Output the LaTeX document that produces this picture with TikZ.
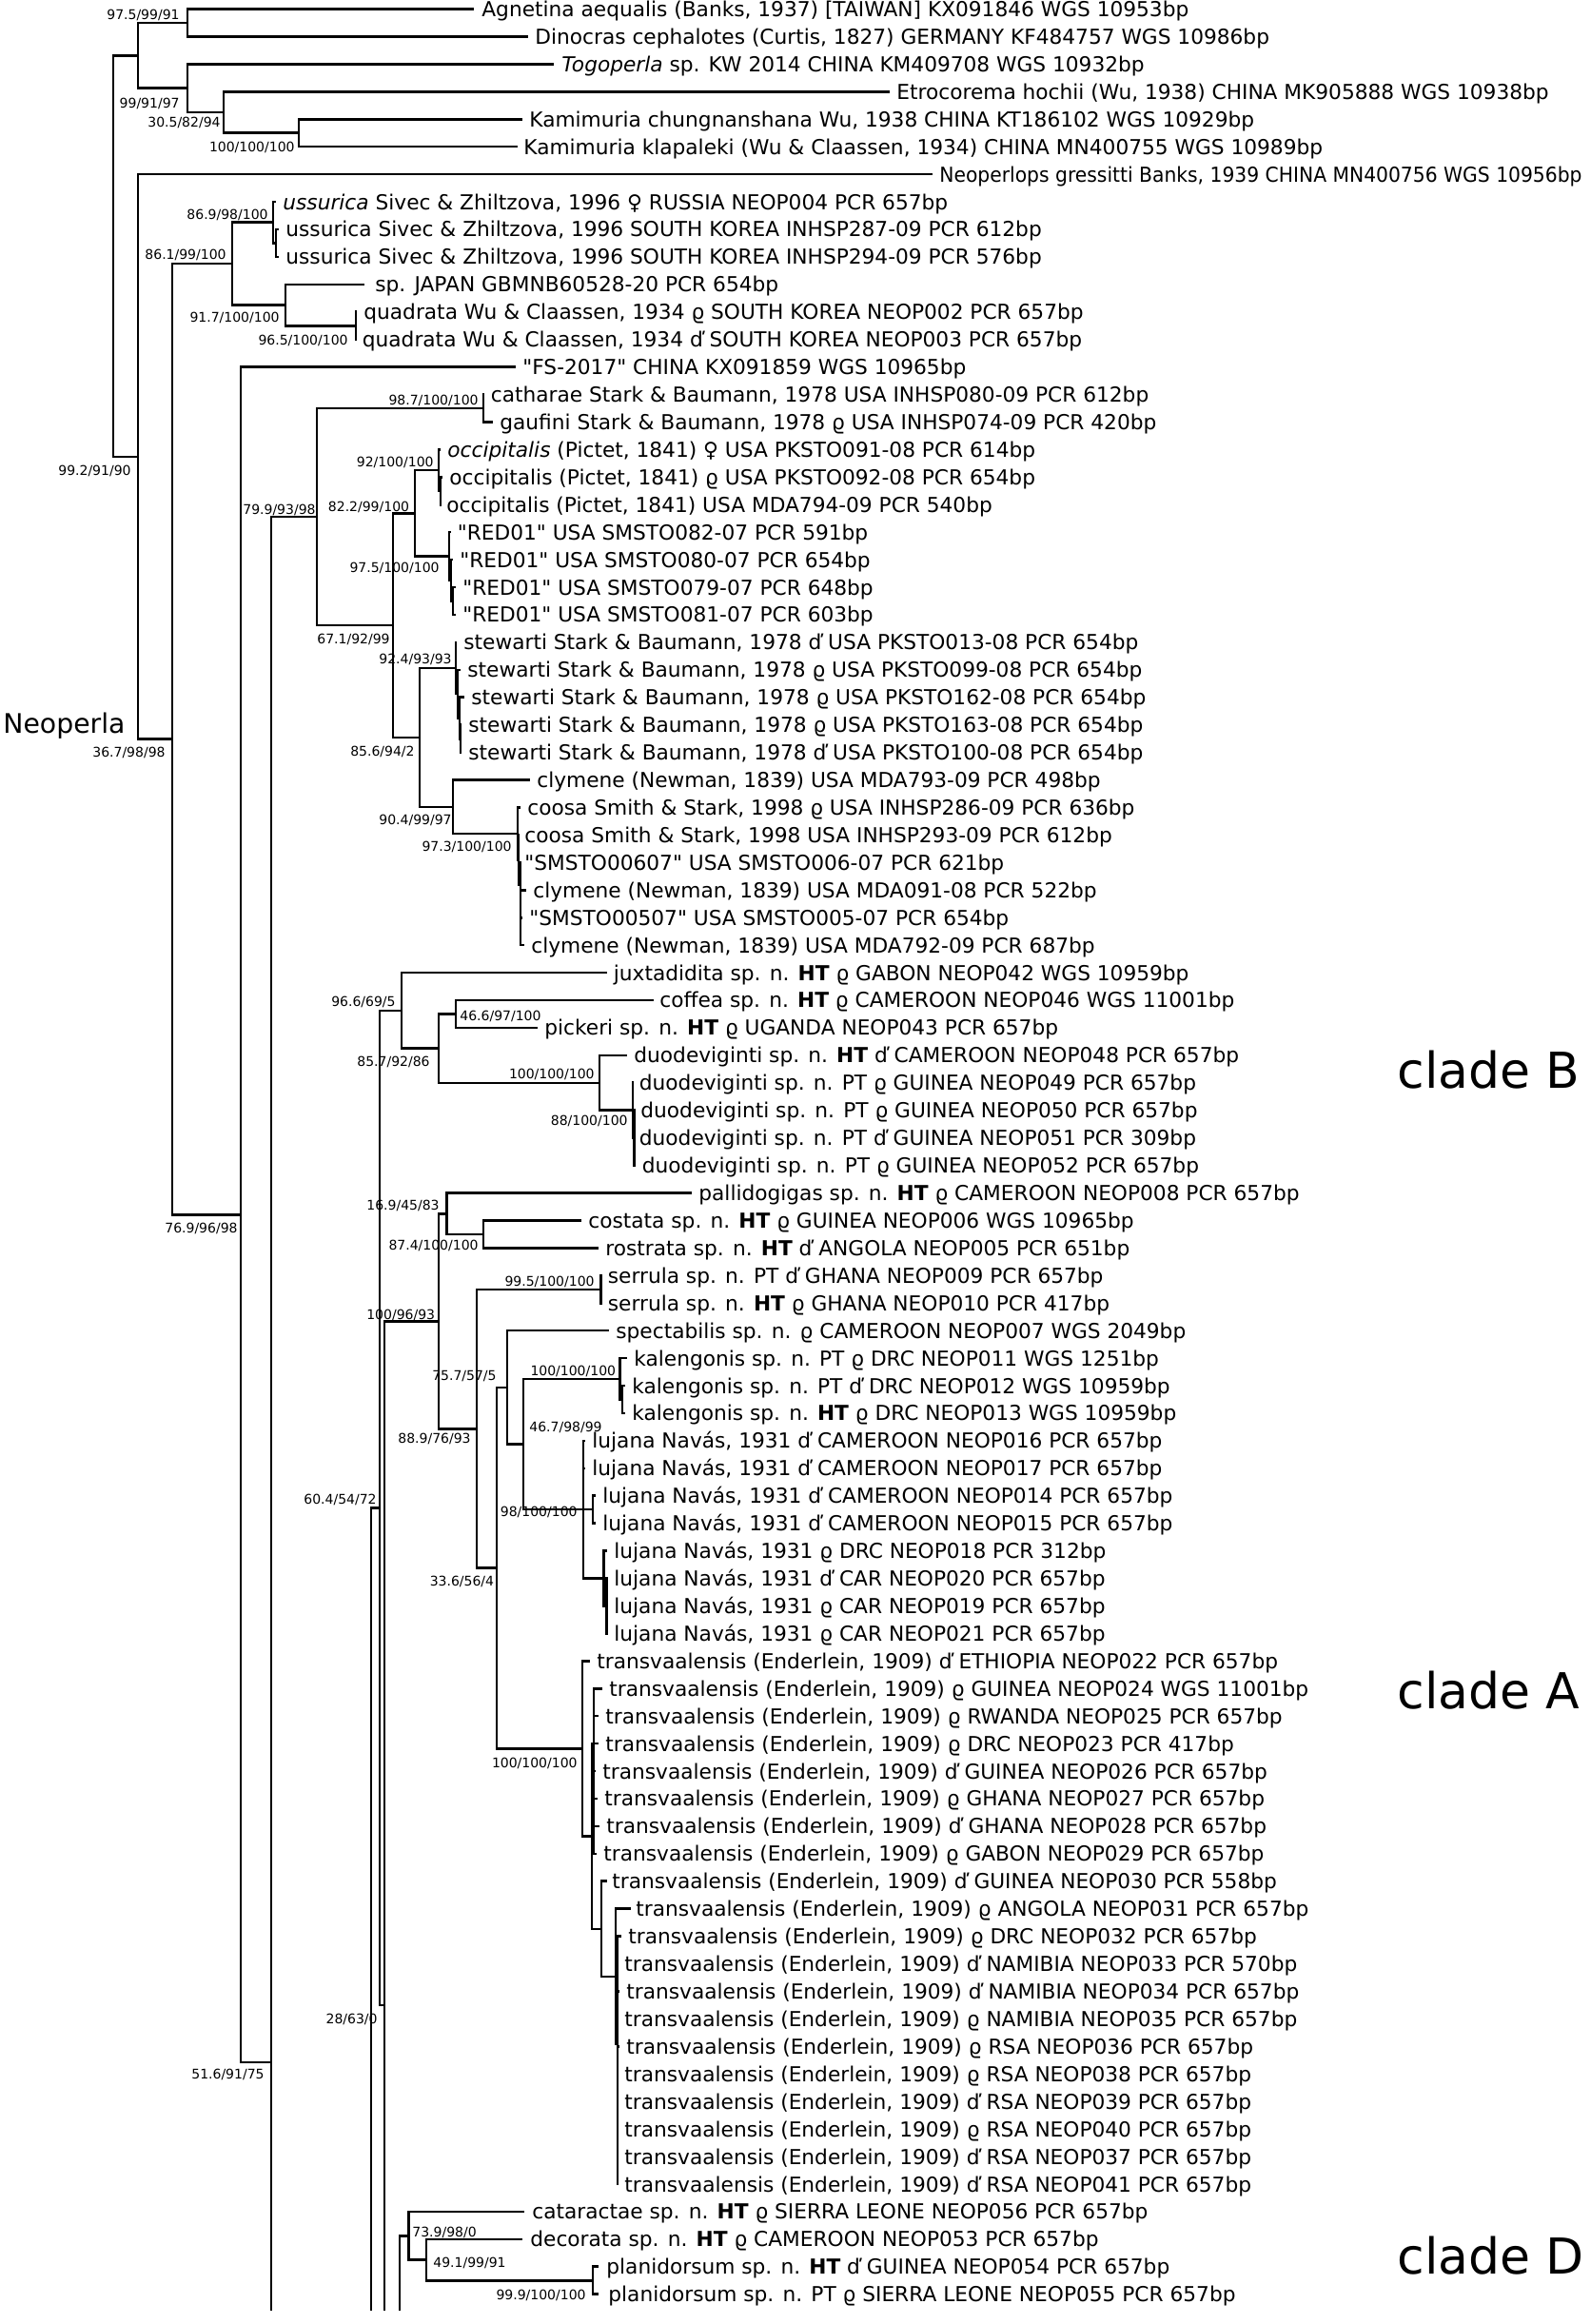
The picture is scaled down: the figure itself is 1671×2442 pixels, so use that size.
\documentclass[tikz,border=0pt]{standalone}
\usepackage{fontspec}
\setmainfont[Ligatures=TeXOff]{DejaVu Sans}
\newcommand\leafY[1]{9.5+28.93*#1}
\newcommand\TVx{transvaalensis (Enderlein, 1909)}
\newcommand\SZx{Sivec \& Zhiltzova, 1996}
\newcommand\SBx{Stark \& Baumann, 1978}
\begin{document}
\begin{tikzpicture}[x=0.5pt,y=-0.5pt,
  br/.style={line width=1.3pt, line cap=rect, line join=miter},
  leaf/.style={anchor=base west, inner sep=0pt, font=\fontsize{10.85}{13}\selectfont},
  suplab/.style={anchor=base east, inner sep=0pt, font=\fontsize{7}{8}\selectfont},
  suplabw/.style={suplab, anchor=base west},
  cladelab/.style={anchor=base west, inner sep=0pt, font=\fontsize{26}{30}\selectfont}]
\fill[white] (0,0) rectangle (1671,2442);
\useasboundingbox (0,0) rectangle (1671,2442);

% ---------- internal nodes ----------
\coordinate (R) at (119,269.1);
\coordinate (O1) at (145,58.3);
\coordinate (O2) at (197,23.97);
\coordinate (O3) at (197,92.67);
\coordinate (O4) at (235,117.99);
\coordinate (O5) at (314,139.69);
\coordinate (N1) at (145,479.9);
\coordinate (N2) at (181,776.7);
\coordinate (N3) at (244,277.1);
\coordinate (U1) at (287,233.7);
\coordinate (U2) at (290,255.4);
\coordinate (J1) at (300,320.5);
\coordinate (Q1) at (374,342.2);
\coordinate (N5) at (253,1276.3);
\coordinate (N6) at (285,2167);
\coordinate (cut6) at (285,2427);
\coordinate (C1) at (333,543);
\coordinate (CG) at (508,429);
\coordinate (C2) at (413,657.1);
\coordinate (C3) at (436,539.3);
\coordinate (OC) at (461,494.1);
\coordinate (OC2) at (463,515.8);
\coordinate (RD) at (472,584.5);
\coordinate (RD2) at (474,609.8);
\coordinate (RD3) at (476,631.5);
\coordinate (C5) at (441,774.9);
\coordinate (ST) at (479,702);
\coordinate (ST2) at (481,729.1);
\coordinate (ST3) at (483,754.4);
\coordinate (ST4) at (484,776.2);
\coordinate (CL) at (476,847.8);
\coordinate (CO) at (544,876);
\coordinate (CO2) at (545,904);
\coordinate (CO3) at (547,930);
\coordinate (cutX) at (390,2427);
\coordinate (Y) at (399,1584.4);
\coordinate (B) at (422,1061.8);
\coordinate (B2) at (461,1101.6);
\coordinate (B3) at (479,1065.4);
\coordinate (DU) at (630,1137.8);
\coordinate (DU2) at (665,1166.7);
\coordinate (DU3) at (666.5,1195.6);
\coordinate (Z) at (404,2107);
\coordinate (cutZ) at (404,2427);
\coordinate (A) at (461,1388.2);
\coordinate (A1) at (469.5,1275.2);
\coordinate (CR) at (508,1296.9);
\coordinate (A2) at (501,1501.2);
\coordinate (SE) at (631.5,1354.8);
\coordinate (A3) at (522,1647.6);
\coordinate (P) at (533,1457.8);
\coordinate (Q) at (550,1517.5);
\coordinate (KA) at (651.5,1448.8);
\coordinate (KA2) at (654,1470.5);
\coordinate (LU) at (613,1586.1);
\coordinate (LU2) at (623,1586.1);
\coordinate (LU3) at (634.5,1658.4);
\coordinate (LU4) at (637.5,1687.3);
\coordinate (TV) at (612,1837.4);
\coordinate (T1) at (622,1929.4);
\coordinate (T2) at (624,1832);
\coordinate (T3) at (632,2026.8);
\coordinate (T4) at (647,2076.9);
\coordinate (T5) at (649,2148);
\coordinate (cutW) at (420,2427);
\coordinate (D) at (429.5,2349.2);
\coordinate (D2) at (448,2374.5);
\coordinate (PL) at (623,2396.2);

% ---------- leaf tips ----------
\foreach \x [count=\i from 0] in {497,554,581,934,548,542.5,979,289,292,292,
  382,374,374,541,508,517,462,464,463,472.5,
  475,478,478,479,483,487,484,484,556,546,
  545,547,552,548,550,637,686,564,657.5,665,
  666.5,666.5,667,726,610,627.5,631.5,631.5,638.5,658,
  656,656,614,614,625,625,637,637.5,637.5,637.5,
  619,632,628,628,625,627,629,626,637,661.5,
  652,649,650,649,650,649,649,649,649,649,
  550,548,628,628}
  \coordinate (l\i) at (\x,{\leafY{\i}});

% ---------- branches ----------
\draw[br] (R) |- (O1); \draw[br] (R) |- (N1);
\draw[br] (O1) |- (O2); \draw[br] (O1) |- (O3);
\draw[br] (O2) |- (l0); \draw[br] (O2) |- (l1);
\draw[br] (O3) |- (l2); \draw[br] (O3) |- (O4);
\draw[br] (O4) |- (l3); \draw[br] (O4) |- (O5);
\draw[br] (O5) |- (l4); \draw[br] (O5) |- (l5);
\draw[br] (N1) |- (l6); \draw[br] (N1) |- (N2);
\draw[br] (N2) |- (N3); \draw[br] (N2) |- (N5);
\draw[br] (N3) |- (U1); \draw[br] (N3) |- (J1);
\draw[br] (U1) |- (l7); \draw[br] (U1) |- (U2);
\draw[br] (U2) |- (l8); \draw[br] (U2) |- (l9);
\draw[br] (J1) |- (l10); \draw[br] (J1) |- (Q1);
\draw[br] (Q1) |- (l11); \draw[br] (Q1) |- (l12);
\draw[br] (N5) |- (l13); \draw[br] (N5) |- (N6);
\draw[br] (N6) |- (C1); \draw[br] (N6) -- (cut6);
\draw[br] (C1) |- (CG); \draw[br] (C1) |- (C2);
\draw[br] (CG) |- (l14); \draw[br] (CG) |- (l15);
\draw[br] (C2) |- (C3); \draw[br] (C2) |- (C5);
\draw[br] (C3) |- (OC); \draw[br] (C3) |- (RD);
\draw[br] (OC) |- (l16); \draw[br] (OC) |- (OC2);
\draw[br] (OC2) |- (l17); \draw[br] (OC2) |- (l18);
\draw[br] (RD) |- (l19); \draw[br] (RD) |- (RD2);
\draw[br] (RD2) |- (l20); \draw[br] (RD2) |- (RD3);
\draw[br] (RD3) |- (l21); \draw[br] (RD3) |- (l22);
\draw[br] (C5) |- (ST); \draw[br] (C5) |- (CL);
\draw[br] (ST) |- (l23); \draw[br] (ST) |- (ST2);
\draw[br] (ST2) |- (l24); \draw[br] (ST2) |- (ST3);
\draw[br] (ST3) |- (l25); \draw[br] (ST3) |- (ST4);
\draw[br] (ST4) |- (l26); \draw[br] (ST4) |- (l27);
\draw[br] (CL) |- (l28); \draw[br] (CL) |- (CO);
\draw[br] (CO) |- (l29); \draw[br] (CO) |- (CO2);
\draw[br] (CO2) |- (l30); \draw[br] (CO2) |- (CO3);
\foreach \i in {31,...,34} \draw[br] (CO3) |- (l\i);
\draw[br] (cutX) |- (Y);
\draw[br] (Y) |- (B); \draw[br] (Y) |- (Z);
\draw[br] (B) |- (l35); \draw[br] (B) |- (B2);
\draw[br] (B2) |- (B3); \draw[br] (B2) |- (DU);
\draw[br] (B3) |- (l36); \draw[br] (B3) |- (l37);
\draw[br] (DU) |- (l38); \draw[br] (DU) |- (DU2);
\draw[br] (DU2) |- (l39); \draw[br] (DU2) |- (DU3);
\foreach \i in {40,41,42} \draw[br] (DU3) |- (l\i);
\draw[br] (Z) |- (A); \draw[br] (Z) -- (cutZ);
\draw[br] (A) |- (A1); \draw[br] (A) |- (A2);
\draw[br] (A1) |- (l43); \draw[br] (A1) |- (CR);
\draw[br] (CR) |- (l44); \draw[br] (CR) |- (l45);
\draw[br] (A2) |- (SE); \draw[br] (A2) |- (A3);
\draw[br] (SE) |- (l46); \draw[br] (SE) |- (l47);
\draw[br] (A3) |- (P); \draw[br] (A3) |- (TV);
\draw[br] (P) |- (l48); \draw[br] (P) |- (Q);
\draw[br] (Q) |- (KA); \draw[br] (Q) |- (LU);
\draw[br] (KA) |- (l49); \draw[br] (KA) |- (KA2);
\draw[br] (KA2) |- (l50); \draw[br] (KA2) |- (l51);
\draw[br] (LU) |- (l52); \draw[br] (LU) |- (l53);
\draw[br] (LU) |- (LU2); \draw[br] (LU) |- (LU3);
\draw[br] (LU2) |- (l54); \draw[br] (LU2) |- (l55);
\draw[br] (LU3) |- (l56); \draw[br] (LU3) |- (LU4);
\foreach \i in {57,58,59} \draw[br] (LU4) |- (l\i);
\draw[br] (TV) |- (l60); \draw[br] (TV) |- (T1);
\draw[br] (T1) |- (T2); \draw[br] (T1) |- (T3);
\foreach \i in {61,...,67} \draw[br] (T2) |- (l\i);
\draw[br] (T3) |- (l68); \draw[br] (T3) |- (T4);
\draw[br] (T4) |- (l69); \draw[br] (T4) |- (T5);
\foreach \i in {70,...,79} \draw[br] (T5) |- (l\i);
\draw[br] (cutW) |- (D);
\draw[br] (D) |- (l80); \draw[br] (D) |- (D2);
\draw[br] (D2) |- (l81); \draw[br] (D2) |- (PL);
\draw[br] (PL) |- (l82); \draw[br] (PL) |- (l83);

% ---------- leaf labels ----------
\node[leaf] (t0) at (506,{\leafY{0}+8}) {Agnetina aequalis (Banks, 1937) [TAIWAN] KX091846 WGS 10953bp};
\node[leaf] (t1) at (562,{\leafY{1}+8}) {Dinocras cephalotes (Curtis, 1827) GERMANY KF484757 WGS 10986bp};
\node[leaf] (t2) at (590,{\leafY{2}+8}) {\textit{Togoperla} sp. KW 2014 CHINA KM409708 WGS 10932bp};
\node[leaf] (t3) at (942,{\leafY{3}+8}) {Etrocorema hochii (Wu, 1938) CHINA MK905888 WGS 10938bp};
\node[leaf] (t4) at (556,{\leafY{4}+8}) {Kamimuria chungnanshana Wu, 1938 CHINA KT186102 WGS 10929bp};
\node[leaf] (t5) at (550,{\leafY{5}+8}) {Kamimuria klapaleki (Wu \& Claassen, 1934) CHINA MN400755 WGS 10989bp};
\node[leaf] (t6) at (987,{\leafY{6}+8}) {\scalebox{0.935}[1]{Neoperlops gressitti Banks, 1939 CHINA MN400756 WGS 10956bp}};
\node[leaf] (t7) at (297,{\leafY{7}+8}) {\textit{ussurica} \SZx{} ♀ RUSSIA NEOP004 PCR 657bp};
\node[leaf] (t8) at (300,{\leafY{8}+8}) {ussurica \SZx{} SOUTH KOREA INHSP287-09 PCR 612bp};
\node[leaf] (t9) at (300,{\leafY{9}+8}) {ussurica \SZx{} SOUTH KOREA INHSP294-09 PCR 576bp};
\node[leaf] (t10) at (394,{\leafY{10}+8}) {sp. JAPAN GBMNB60528-20 PCR 654bp};
\node[leaf] (t11) at (382,{\leafY{11}+8}) {quadrata Wu \& Claassen, 1934 ϱ SOUTH KOREA NEOP002 PCR 657bp};
\node[leaf] (t12) at (380.5,{\leafY{12}+8}) {quadrata Wu \& Claassen, 1934 ď SOUTH KOREA NEOP003 PCR 657bp};
\node[leaf] (t13) at (549,{\leafY{13}+8}) {"FS-2017" CHINA KX091859 WGS 10965bp};
\node[leaf] (t14) at (515.5,{\leafY{14}+8}) {catharae \SBx{} USA INHSP080-09 PCR 612bp};
\node[leaf] (t15) at (525,{\leafY{15}+8}) {gaufini \SBx{} ϱ USA INHSP074-09 PCR 420bp};
\node[leaf] (t16) at (470,{\leafY{16}+8}) {\textit{occipitalis} (Pictet, 1841) ♀ USA PKSTO091-08 PCR 614bp};
\node[leaf] (t17) at (472,{\leafY{17}+8}) {occipitalis (Pictet, 1841) ϱ USA PKSTO092-08 PCR 654bp};
\node[leaf] (t18) at (469,{\leafY{18}+8}) {occipitalis (Pictet, 1841) USA MDA794-09 PCR 540bp};
\node[leaf] (t19) at (480.5,{\leafY{19}+8}) {"RED01" USA SMSTO082-07 PCR 591bp};
\node[leaf] (t20) at (483,{\leafY{20}+8}) {"RED01" USA SMSTO080-07 PCR 654bp};
\node[leaf] (t21) at (486,{\leafY{21}+8}) {"RED01" USA SMSTO079-07 PCR 648bp};
\node[leaf] (t22) at (486,{\leafY{22}+8}) {"RED01" USA SMSTO081-07 PCR 603bp};
\node[leaf] (t23) at (487,{\leafY{23}+8}) {stewarti \SBx{} ď USA PKSTO013-08 PCR 654bp};
\node[leaf] (t24) at (491,{\leafY{24}+8}) {stewarti \SBx{} ϱ USA PKSTO099-08 PCR 654bp};
\node[leaf] (t25) at (495,{\leafY{25}+8}) {stewarti \SBx{} ϱ USA PKSTO162-08 PCR 654bp};
\node[leaf] (t26) at (492,{\leafY{26}+8}) {stewarti \SBx{} ϱ USA PKSTO163-08 PCR 654bp};
\node[leaf] (t27) at (492,{\leafY{27}+8}) {stewarti \SBx{} ď USA PKSTO100-08 PCR 654bp};
\node[leaf] (t28) at (564,{\leafY{28}+8}) {clymene (Newman, 1839) USA MDA793-09 PCR 498bp};
\node[leaf] (t29) at (554,{\leafY{29}+8}) {coosa Smith \& Stark, 1998 ϱ USA INHSP286-09 PCR 636bp};
\node[leaf] (t30) at (551,{\leafY{30}+8}) {coosa Smith \& Stark, 1998 USA INHSP293-09 PCR 612bp};
\node[leaf] (t31) at (551,{\leafY{31}+8}) {"SMSTO00607" USA SMSTO006-07 PCR 621bp};
\node[leaf] (t32) at (560,{\leafY{32}+8}) {clymene (Newman, 1839) USA MDA091-08 PCR 522bp};
\node[leaf] (t33) at (556,{\leafY{33}+8}) {"SMSTO00507" USA SMSTO005-07 PCR 654bp};
\node[leaf] (t34) at (558,{\leafY{34}+8}) {clymene (Newman, 1839) USA MDA792-09 PCR 687bp};
\node[leaf] (t35) at (644.5,{\leafY{35}+8}) {juxtadidita sp. n. \textbf{HT} ϱ GABON NEOP042 WGS 10959bp};
\node[leaf] (t36) at (693,{\leafY{36}+8}) {coffea sp. n. \textbf{HT} ϱ CAMEROON NEOP046 WGS 11001bp};
\node[leaf] (t37) at (572,{\leafY{37}+8}) {pickeri sp. n. \textbf{HT} ϱ UGANDA NEOP043 PCR 657bp};
\node[leaf] (t38) at (666,{\leafY{38}+8}) {duodeviginti sp. n. \textbf{HT} ď CAMEROON NEOP048 PCR 657bp};
\node[leaf] (t39) at (671.5,{\leafY{39}+8}) {duodeviginti sp. n. PT ϱ GUINEA NEOP049 PCR 657bp};
\node[leaf] (t40) at (673,{\leafY{40}+8}) {duodeviginti sp. n. PT ϱ GUINEA NEOP050 PCR 657bp};
\node[leaf] (t41) at (671.5,{\leafY{41}+8}) {duodeviginti sp. n. PT ď GUINEA NEOP051 PCR 309bp};
\node[leaf] (t42) at (674.5,{\leafY{42}+8}) {duodeviginti sp. n. PT ϱ GUINEA NEOP052 PCR 657bp};
\node[leaf] (t43) at (734,{\leafY{43}+8}) {pallidogigas sp. n. \textbf{HT} ϱ CAMEROON NEOP008 PCR 657bp};
\node[leaf] (t44) at (618,{\leafY{44}+8}) {costata sp. n. \textbf{HT} ϱ GUINEA NEOP006 WGS 10965bp};
\node[leaf] (t45) at (636,{\leafY{45}+8}) {rostrata sp. n. \textbf{HT} ď ANGOLA NEOP005 PCR 651bp};
\node[leaf] (t46) at (638.5,{\leafY{46}+8}) {serrula sp. n. PT ď GHANA NEOP009 PCR 657bp};
\node[leaf] (t47) at (638.5,{\leafY{47}+8}) {serrula sp. n. \textbf{HT} ϱ GHANA NEOP010 PCR 417bp};
\node[leaf] (t48) at (647,{\leafY{48}+8}) {spectabilis sp. n. ϱ CAMEROON NEOP007 WGS 2049bp};
\node[leaf] (t49) at (666,{\leafY{49}+8}) {kalengonis sp. n. PT ϱ DRC NEOP011 WGS 1251bp};
\node[leaf] (t50) at (664,{\leafY{50}+8}) {kalengonis sp. n. PT ď DRC NEOP012 WGS 10959bp};
\node[leaf] (t51) at (664,{\leafY{51}+8}) {kalengonis sp. n. \textbf{HT} ϱ DRC NEOP013 WGS 10959bp};
\node[leaf] (t52) at (622,{\leafY{52}+8}) {lujana Navás, 1931 ď CAMEROON NEOP016 PCR 657bp};
\node[leaf] (t53) at (622,{\leafY{53}+8}) {lujana Navás, 1931 ď CAMEROON NEOP017 PCR 657bp};
\node[leaf] (t54) at (633,{\leafY{54}+8}) {lujana Navás, 1931 ď CAMEROON NEOP014 PCR 657bp};
\node[leaf] (t55) at (633,{\leafY{55}+8}) {lujana Navás, 1931 ď CAMEROON NEOP015 PCR 657bp};
\node[leaf] (t56) at (645,{\leafY{56}+8}) {lujana Navás, 1931 ϱ DRC NEOP018 PCR 312bp};
\node[leaf] (t57) at (645,{\leafY{57}+8}) {lujana Navás, 1931 ď CAR NEOP020 PCR 657bp};
\node[leaf] (t58) at (645,{\leafY{58}+8}) {lujana Navás, 1931 ϱ CAR NEOP019 PCR 657bp};
\node[leaf] (t59) at (645,{\leafY{59}+8}) {lujana Navás, 1931 ϱ CAR NEOP021 PCR 657bp};
\node[leaf] (t60) at (627,{\leafY{60}+8}) {\TVx{} ď ETHIOPIA NEOP022 PCR 657bp};
\node[leaf] (t61) at (640,{\leafY{61}+8}) {\TVx{} ϱ GUINEA NEOP024 WGS 11001bp};
\node[leaf] (t62) at (636,{\leafY{62}+8}) {\TVx{} ϱ RWANDA NEOP025 PCR 657bp};
\node[leaf] (t63) at (636,{\leafY{63}+8}) {\TVx{} ϱ DRC NEOP023 PCR 417bp};
\node[leaf] (t64) at (633,{\leafY{64}+8}) {\TVx{} ď GUINEA NEOP026 PCR 657bp};
\node[leaf] (t65) at (635,{\leafY{65}+8}) {\TVx{} ϱ GHANA NEOP027 PCR 657bp};
\node[leaf] (t66) at (637,{\leafY{66}+8}) {\TVx{} ď GHANA NEOP028 PCR 657bp};
\node[leaf] (t67) at (634,{\leafY{67}+8}) {\TVx{} ϱ GABON NEOP029 PCR 657bp};
\node[leaf] (t68) at (643,{\leafY{68}+8}) {\TVx{} ď GUINEA NEOP030 PCR 558bp};
\node[leaf] (t69) at (668,{\leafY{69}+8}) {\TVx{} ϱ ANGOLA NEOP031 PCR 657bp};
\node[leaf] (t70) at (660,{\leafY{70}+8}) {\TVx{} ϱ DRC NEOP032 PCR 657bp};
\node[leaf] (t71) at (656,{\leafY{71}+8}) {\TVx{} ď NAMIBIA NEOP033 PCR 570bp};
\node[leaf] (t72) at (658,{\leafY{72}+8}) {\TVx{} ď NAMIBIA NEOP034 PCR 657bp};
\node[leaf] (t73) at (656,{\leafY{73}+8}) {\TVx{} ϱ NAMIBIA NEOP035 PCR 657bp};
\node[leaf] (t74) at (658,{\leafY{74}+8}) {\TVx{} ϱ RSA NEOP036 PCR 657bp};
\node[leaf] (t75) at (656,{\leafY{75}+8}) {\TVx{} ϱ RSA NEOP038 PCR 657bp};
\node[leaf] (t76) at (656,{\leafY{76}+8}) {\TVx{} ď RSA NEOP039 PCR 657bp};
\node[leaf] (t77) at (656,{\leafY{77}+8}) {\TVx{} ϱ RSA NEOP040 PCR 657bp};
\node[leaf] (t78) at (656,{\leafY{78}+8}) {\TVx{} ď RSA NEOP037 PCR 657bp};
\node[leaf] (t79) at (656,{\leafY{79}+8}) {\TVx{} ď RSA NEOP041 PCR 657bp};
\node[leaf] (t80) at (559,{\leafY{80}+8}) {cataractae sp. n. \textbf{HT} ϱ SIERRA LEONE NEOP056 PCR 657bp};
\node[leaf] (t81) at (557,{\leafY{81}+8}) {decorata sp. n. \textbf{HT} ϱ CAMEROON NEOP053 PCR 657bp};
\node[leaf] (t82) at (637,{\leafY{82}+8}) {planidorsum sp. n. \textbf{HT} ď GUINEA NEOP054 PCR 657bp};
\node[leaf] (t83) at (639,{\leafY{83}+8}) {planidorsum sp. n. PT ϱ SIERRA LEONE NEOP055 PCR 657bp};

% ---------- support values ----------
\node[suplab] (s1) at (189,20) {97.5/99/91};
\node[suplab] (s2) at (189,113) {99/91/97};
\node[suplab] (s3) at (232,133) {30.5/82/94};
\node[suplab] (s4) at (310,159) {100/100/100};
\node[suplab] (s5) at (282,230) {86.9/98/100};
\node[suplab] (s6) at (238,272.3) {86.1/99/100};
\node[suplab] (s7) at (294,338.3) {91.7/100/100};
\node[suplab] (s8) at (366,362.3) {96.5/100/100};
\node[suplab] (s9) at (138,499) {99.2/91/90};
\node[suplab] (s10) at (503,425.7) {98.7/100/100};
\node[suplab] (s11) at (456,490.3) {92/100/100};
\node[suplab] (s12) at (430.5,537) {82.2/99/100};
\node[suplab] (s13) at (332,540) {79.9/93/98};
\node[suplab] (s14) at (462,601.7) {97.5/100/100};
\node[suplab] (s15) at (410,676.7) {67.1/92/99};
\node[suplab] (s16) at (475,697.3) {92.4/93/93};
\node[suplab] (s17) at (174,795) {36.7/98/98};
\node[suplab] (s19) at (436,794) {85.6/94/2};
\node[suplab] (s20) at (475,866.7) {90.4/99/97};
\node[suplab] (s21) at (538,894.3) {97.3/100/100};
\node[suplab] (s22) at (416,1057.7) {96.6/69/5};
\node[suplabw] (s23) at (483,1072.3) {46.6/97/100};
\node[suplab] (s24) at (452,1120) {85.7/92/86};
\node[suplab] (s25) at (625,1133.3) {100/100/100};
\node[suplab] (s26) at (660,1182.3) {88/100/100};
\node[suplab] (s27) at (462,1271.7) {16.9/45/83};
\node[suplab] (s28) at (250,1295.7) {76.9/96/98};
\node[suplab] (s29) at (503,1313.3) {87.4/100/100};
\node[suplab] (s30) at (625,1351.7) {99.5/100/100};
\node[suplab] (s31) at (457.5,1386) {100/96/93};
\node[suplab] (s32) at (522,1450) {75.7/57/5};
\node[suplab] (s33) at (647.5,1445.7) {100/100/100};
\node[suplabw] (s34) at (556,1504) {46.7/98/99};
\node[suplab] (s35) at (495,1516.7) {88.9/76/93};
\node[suplab] (s36) at (396,1580) {60.4/54/72};
\node[suplab] (s37) at (607,1593.3) {98/100/100};
\node[suplab] (s38) at (519.5,1666) {33.6/56/4};
\node[suplab] (s39) at (607,1857.7) {100/100/100};
\node[suplab] (s40) at (397,2126.7) {28/63/0};
\node[suplab] (s41) at (278,2184) {51.6/91/75};
\node[suplabw] (s42) at (433,2350) {73.9/98/0};
\node[suplabw] (s43) at (455,2382.7) {49.1/99/91};
\node[suplab] (s44) at (616,2416) {99.9/100/100};

% ---------- clade names ----------
\node[anchor=base west, inner sep=0pt, font=\fontsize{14.15}{17}\selectfont] (neo) at (3,770) {Neoperla};
\node[cladelab] (cB) at (1468,1143) {clade B};
\node[cladelab] (cA) at (1468,1795) {clade A};
\node[cladelab] (cD) at (1468,2389) {clade D};
\end{tikzpicture}
\end{document}
